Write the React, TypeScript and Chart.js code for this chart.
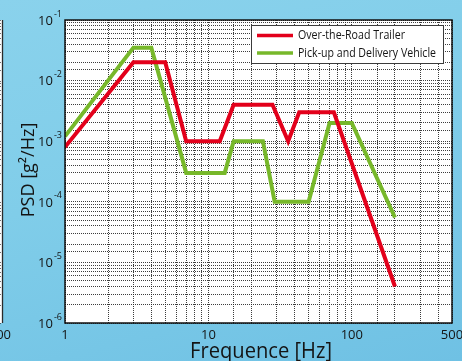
import React, { useEffect, useRef } from 'react';
import { Chart, registerables } from 'chart.js';

Chart.register(...registerables);

// ---- data ----
const trailerFreq = [1, 3, 5, 7, 12, 15, 28, 36, 43, 75, 200];
const trailerPsd = [8e-4, 0.02, 0.02, 1e-3, 1e-3, 4e-3, 4e-3, 1e-3, 3e-3, 3e-3, 4e-6];
const vehicleFreq = [1, 3, 4, 7, 13, 15, 24, 29, 50, 70, 100, 200];
const vehiclePsd = [1.2e-3, 0.035, 0.035, 3e-4, 3e-4, 1e-3, 1e-3, 1e-4, 1e-4, 2e-3, 2e-3, 5.5e-5];
const seriesLabels = ['Over-the-Road Trailer', 'Pick-up and Delivery Vehicle'];
const seriesColors = ['#e3001b', '#77b82a'];
const xTickLabels = [1, 10, 100, 500];
const yTickExponents = [-6, -5, -4, -3, -2, -1];
const xTitle = 'Frequence [Hz]';
const yTitle = 'PSD [g²/Hz]';
const neighborLabel = '500';

const FONT = '"Open Sans", "DejaVu Sans", sans-serif';
const TEXT = '#141414';

const decor = {
  id: 'decor',
  beforeDraw(chart: any) {
    const { ctx, chartArea: a, scales } = chart;
    ctx.save();
    ctx.fillStyle = '#ffffff';
    ctx.fillRect(a.left, a.top, a.right - a.left, a.bottom - a.top);
    // edge of the neighbouring chart at far left
    ctx.fillRect(0, a.top, 2, a.bottom - a.top);
    ctx.strokeStyle = 'rgba(50,50,50,0.7)';
    ctx.lineWidth = 1;
    ctx.setLineDash([1, 1]);
    scales.y.ticks.forEach((t: any) => {
      const py = Math.round(scales.y.getPixelForValue(t.value)) + 0.5;
      ctx.beginPath();
      ctx.moveTo(0, py);
      ctx.lineTo(2, py);
      ctx.stroke();
    });
    ctx.setLineDash([]);
    ctx.strokeStyle = '#2a2a2a';
    ctx.lineWidth = 1.3;
    ctx.beginPath();
    ctx.moveTo(2.5, a.top);
    ctx.lineTo(2.5, a.bottom);
    ctx.stroke();
    ctx.fillStyle = TEXT;
    ctx.font = `500 13px ${FONT}`;
    ctx.textAlign = 'right';
    ctx.textBaseline = 'middle';
    ctx.fillText(neighborLabel, 11, a.bottom + 12);
    ctx.restore();
  },
  afterDraw(chart: any) {
    const { ctx, chartArea: a, scales } = chart;
    const xs = scales.x;
    const ys = scales.y;
    ctx.save();
    // frame
    ctx.strokeStyle = '#111';
    ctx.lineWidth = 1.5;
    ctx.strokeRect(a.left, a.top, a.right - a.left, a.bottom - a.top);

    ctx.fillStyle = TEXT;
    // x tick labels
    ctx.font = `500 13px ${FONT}`;
    ctx.textAlign = 'center';
    ctx.textBaseline = 'middle';
    xTickLabels.forEach((v) => {
      ctx.fillText(String(v), xs.getPixelForValue(v), a.bottom + 12);
    });
    // y tick labels with superscript exponent
    yTickExponents.forEach((e) => {
      const py = ys.getPixelForValue(Math.pow(10, e));
      ctx.textAlign = 'right';
      ctx.font = `500 9px ${FONT}`;
      const sup = String(e);
      const sw = ctx.measureText(sup).width;
      ctx.fillText(sup, a.left - 3, py - 6);
      ctx.font = `500 13px ${FONT}`;
      ctx.fillText('10', a.left - 4 - sw, py + 1);
    });

    // axis titles
    ctx.font = `500 21px ${FONT}`;
    ctx.textAlign = 'center';
    ctx.textBaseline = 'alphabetic';
    ctx.fillText(xTitle, 261, 358, 142);
    ctx.save();
    ctx.translate(34, 170);
    ctx.rotate(-Math.PI / 2);
    ctx.font = `500 18px ${FONT}`;
    ctx.fillText(yTitle, 0, 0, 106);
    ctx.restore();

    // legend
    const lx = 251, ly = 25, lw = 192, lh = 38;
    ctx.fillStyle = '#ffffff';
    ctx.fillRect(lx, ly, lw, lh);
    ctx.strokeStyle = '#3a3a3a';
    ctx.lineWidth = 1;
    ctx.strokeRect(lx + 0.5, ly + 0.5, lw, lh);
    seriesLabels.forEach((lab, i) => {
      const cy = ly + 10.5 + i * 17.5;
      ctx.strokeStyle = seriesColors[i];
      ctx.lineWidth = 3.5;
      ctx.beginPath();
      ctx.moveTo(lx + 6, cy);
      ctx.lineTo(lx + 42, cy);
      ctx.stroke();
      ctx.fillStyle = TEXT;
      ctx.font = `500 12px ${FONT}`;
      ctx.textAlign = 'left';
      ctx.textBaseline = 'middle';
      ctx.fillText(lab, lx + 47, cy + 0.5, i === 0 ? 107 : 138);
    });
    ctx.restore();
  },
};

export default function App() {
  const ref = useRef<HTMLCanvasElement | null>(null);

  useEffect(() => {
    if (!ref.current) return;
    const gridCommon = {
      display: true,
      drawTicks: false,
      color: 'rgba(40,40,40,0.9)',
      lineWidth: 1,
    };
    const chart = new Chart(ref.current, {
      type: 'line',
      data: {
        datasets: [
          {
            label: seriesLabels[0],
            data: trailerFreq.map((f, i) => ({ x: f, y: trailerPsd[i] })),
            borderColor: seriesColors[0],
            backgroundColor: seriesColors[0],
            borderWidth: 4,
            pointRadius: 0,
            tension: 0,
            fill: false,
          },
          {
            label: seriesLabels[1],
            data: vehicleFreq.map((f, i) => ({ x: f, y: vehiclePsd[i] })),
            borderColor: seriesColors[1],
            backgroundColor: seriesColors[1],
            borderWidth: 4,
            pointRadius: 0,
            tension: 0,
            fill: false,
          },
        ],
      },
      options: {
        responsive: false,
        animation: false,
        devicePixelRatio: 1,
        layout: { padding: { left: 65, right: 10, top: 20, bottom: 38 } },
        plugins: {
          legend: { display: false },
          tooltip: { enabled: false },
        },
        scales: {
          x: {
            type: 'logarithmic',
            min: 1,
            max: 500,
            grid: gridCommon,
            border: { display: false, dash: [1, 1] },
            ticks: { display: false, autoSkip: false },
          },
          y: {
            type: 'logarithmic',
            min: 1e-6,
            max: 1e-1,
            grid: gridCommon,
            border: { display: false, dash: [1, 1] },
            ticks: { display: false, autoSkip: false },
          },
        },
      },
      plugins: [decor],
    } as any);
    return () => chart.destroy();
  }, []);

  return (
    <div
      style={{
        position: 'fixed',
        left: 0,
        top: 0,
        width: 462,
        height: 361,
        background: 'linear-gradient(165deg, #8ad2ec 0%, #80cde9 45%, #6fc1e4 100%)',
      }}
    >
      <canvas ref={ref} width={462} height={361} style={{ display: 'block' }} />
    </div>
  );
}
